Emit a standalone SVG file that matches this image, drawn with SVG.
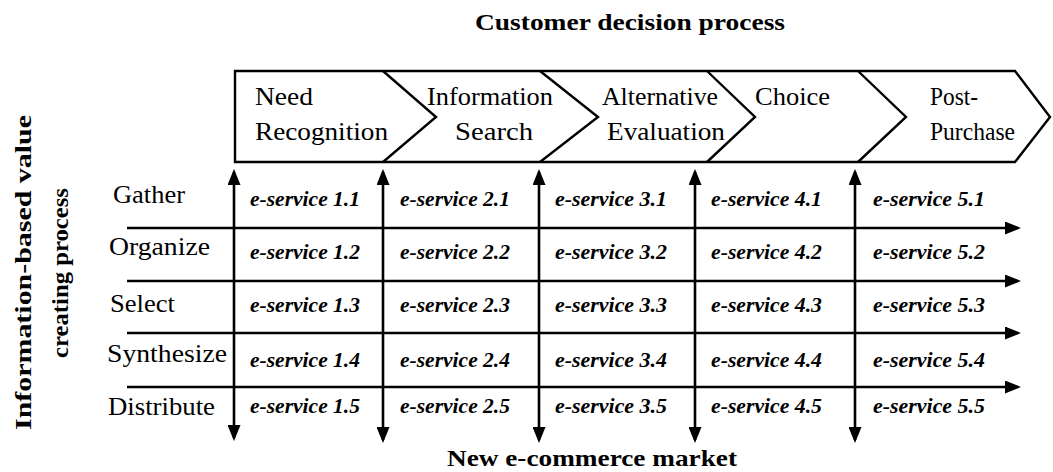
<svg xmlns="http://www.w3.org/2000/svg" width="1053" height="472" viewBox="0 0 1053 472">
<style>
.t{font-family:"Liberation Serif","Tinos","DejaVu Serif",serif;fill:#000}
.h{font-weight:bold;font-size:23px}
.c{font-size:26px;font-weight:normal}
.r{font-size:26px;font-weight:normal}
.e{font-weight:bold;font-style:italic;font-size:20.5px}
.ln{stroke:#000;stroke-width:2.6;fill:none}
.ch{stroke:#000;stroke-width:2.4;fill:none;stroke-linejoin:miter}
</style>
<defs>
<marker id="ah" markerUnits="userSpaceOnUse" markerWidth="16" markerHeight="13" refX="13" refY="6.5" orient="auto-start-reverse" viewBox="0 0 16 13">
<path d="M0,0 L16,6.5 L0,13 z" fill="#000"/>
</marker>
</defs>
<g id="titles">
<text class="t h" x="475" y="30" textLength="310" lengthAdjust="spacingAndGlyphs">Customer decision process</text>
<text class="t h" x="447" y="466" textLength="290" lengthAdjust="spacingAndGlyphs">New e-commerce market</text>
<text class="t h" transform="translate(31,272.5) rotate(-90)" text-anchor="middle" textLength="315" lengthAdjust="spacingAndGlyphs">Information-based value</text>
<text class="t h" transform="translate(68,273) rotate(-90)" text-anchor="middle" textLength="170" lengthAdjust="spacingAndGlyphs">creating process</text>
</g>
<g id="chevron-band">
<path class="ch" d="M235,71 L1015,71 L1050,117 L1015,162 L235,162 Z"/>
<path class="ch" d="M383,71 L436,117 L383,162"/>
<path class="ch" d="M540,71 L598,117 L540,162"/>
<path class="ch" d="M707,71 L755,117 L707,162"/>
<path class="ch" d="M858,71 L906,117 L858,162"/>
</g>
<g id="stage-need">
<text class="t c" x="255" y="105" textLength="58" lengthAdjust="spacingAndGlyphs">Need</text>
<text class="t c" x="255" y="140" textLength="133" lengthAdjust="spacingAndGlyphs">Recognition</text>
</g>
<g id="stage-info">
<text class="t c" x="427" y="105" textLength="126" lengthAdjust="spacingAndGlyphs">Information</text>
<text class="t c" x="455" y="140" textLength="78" lengthAdjust="spacingAndGlyphs">Search</text>
</g>
<g id="stage-alt">
<text class="t c" x="602" y="105" textLength="116" lengthAdjust="spacingAndGlyphs">Alternative</text>
<text class="t c" x="607" y="140" textLength="118" lengthAdjust="spacingAndGlyphs">Evaluation</text>
</g>
<g id="stage-choice">
<text class="t c" x="755" y="105" textLength="75" lengthAdjust="spacingAndGlyphs">Choice</text>
</g>
<g id="stage-post">
<text class="t c" x="930" y="105" textLength="48" lengthAdjust="spacingAndGlyphs">Post-</text>
<text class="t c" x="930" y="140" textLength="85" lengthAdjust="spacingAndGlyphs">Purchase</text>
</g>
<g id="row-labels">
<text class="t r" x="113" y="203" textLength="72" lengthAdjust="spacingAndGlyphs">Gather</text>
<text class="t r" x="109" y="255" textLength="101" lengthAdjust="spacingAndGlyphs">Organize</text>
<text class="t r" x="110" y="312" textLength="65" lengthAdjust="spacingAndGlyphs">Select</text>
<text class="t r" x="107" y="362" textLength="120" lengthAdjust="spacingAndGlyphs">Synthesize</text>
<text class="t r" x="108" y="415" textLength="107" lengthAdjust="spacingAndGlyphs">Distribute</text>
</g>
<g id="connectors">
<line class="ln" x1="127" y1="228" x2="1018" y2="228" marker-end="url(#ah)"/>
<line class="ln" x1="127" y1="281" x2="1018" y2="281" marker-end="url(#ah)"/>
<line class="ln" x1="127" y1="333" x2="1018" y2="333" marker-end="url(#ah)"/>
<line class="ln" x1="127" y1="387" x2="1018" y2="387" marker-end="url(#ah)"/>
<line class="ln" x1="234" y1="172" x2="234" y2="438" marker-start="url(#ah)" marker-end="url(#ah)"/>
<line class="ln" x1="383" y1="172" x2="383" y2="440" marker-start="url(#ah)" marker-end="url(#ah)"/>
<line class="ln" x1="539" y1="172" x2="539" y2="440" marker-start="url(#ah)" marker-end="url(#ah)"/>
<line class="ln" x1="695" y1="172" x2="695" y2="440" marker-start="url(#ah)" marker-end="url(#ah)"/>
<line class="ln" x1="855" y1="172" x2="855" y2="440" marker-start="url(#ah)" marker-end="url(#ah)"/>
</g>
<g id="services">
<g id="col1">
<text class="t e" x="250" y="206" textLength="110" lengthAdjust="spacingAndGlyphs">e-service 1.1</text>
<text class="t e" x="250" y="259" textLength="110" lengthAdjust="spacingAndGlyphs">e-service 1.2</text>
<text class="t e" x="250" y="312" textLength="110" lengthAdjust="spacingAndGlyphs">e-service 1.3</text>
<text class="t e" x="250" y="367" textLength="110" lengthAdjust="spacingAndGlyphs">e-service 1.4</text>
<text class="t e" x="250" y="413" textLength="110" lengthAdjust="spacingAndGlyphs">e-service 1.5</text>
</g>
<g id="col2">
<text class="t e" x="400" y="206" textLength="110" lengthAdjust="spacingAndGlyphs">e-service 2.1</text>
<text class="t e" x="400" y="259" textLength="110" lengthAdjust="spacingAndGlyphs">e-service 2.2</text>
<text class="t e" x="400" y="312" textLength="110" lengthAdjust="spacingAndGlyphs">e-service 2.3</text>
<text class="t e" x="400" y="367" textLength="110" lengthAdjust="spacingAndGlyphs">e-service 2.4</text>
<text class="t e" x="400" y="413" textLength="110" lengthAdjust="spacingAndGlyphs">e-service 2.5</text>
</g>
<g id="col3">
<text class="t e" x="555" y="206" textLength="112" lengthAdjust="spacingAndGlyphs">e-service 3.1</text>
<text class="t e" x="555" y="259" textLength="112" lengthAdjust="spacingAndGlyphs">e-service 3.2</text>
<text class="t e" x="555" y="312" textLength="112" lengthAdjust="spacingAndGlyphs">e-service 3.3</text>
<text class="t e" x="555" y="367" textLength="112" lengthAdjust="spacingAndGlyphs">e-service 3.4</text>
<text class="t e" x="555" y="413" textLength="112" lengthAdjust="spacingAndGlyphs">e-service 3.5</text>
</g>
<g id="col4">
<text class="t e" x="711" y="206" textLength="111" lengthAdjust="spacingAndGlyphs">e-service 4.1</text>
<text class="t e" x="711" y="259" textLength="111" lengthAdjust="spacingAndGlyphs">e-service 4.2</text>
<text class="t e" x="711" y="312" textLength="111" lengthAdjust="spacingAndGlyphs">e-service 4.3</text>
<text class="t e" x="711" y="367" textLength="111" lengthAdjust="spacingAndGlyphs">e-service 4.4</text>
<text class="t e" x="711" y="413" textLength="111" lengthAdjust="spacingAndGlyphs">e-service 4.5</text>
</g>
<g id="col5">
<text class="t e" x="873" y="206" textLength="112" lengthAdjust="spacingAndGlyphs">e-service 5.1</text>
<text class="t e" x="873" y="259" textLength="112" lengthAdjust="spacingAndGlyphs">e-service 5.2</text>
<text class="t e" x="873" y="312" textLength="112" lengthAdjust="spacingAndGlyphs">e-service 5.3</text>
<text class="t e" x="873" y="367" textLength="112" lengthAdjust="spacingAndGlyphs">e-service 5.4</text>
<text class="t e" x="873" y="413" textLength="112" lengthAdjust="spacingAndGlyphs">e-service 5.5</text>
</g>
</g>
</svg>
